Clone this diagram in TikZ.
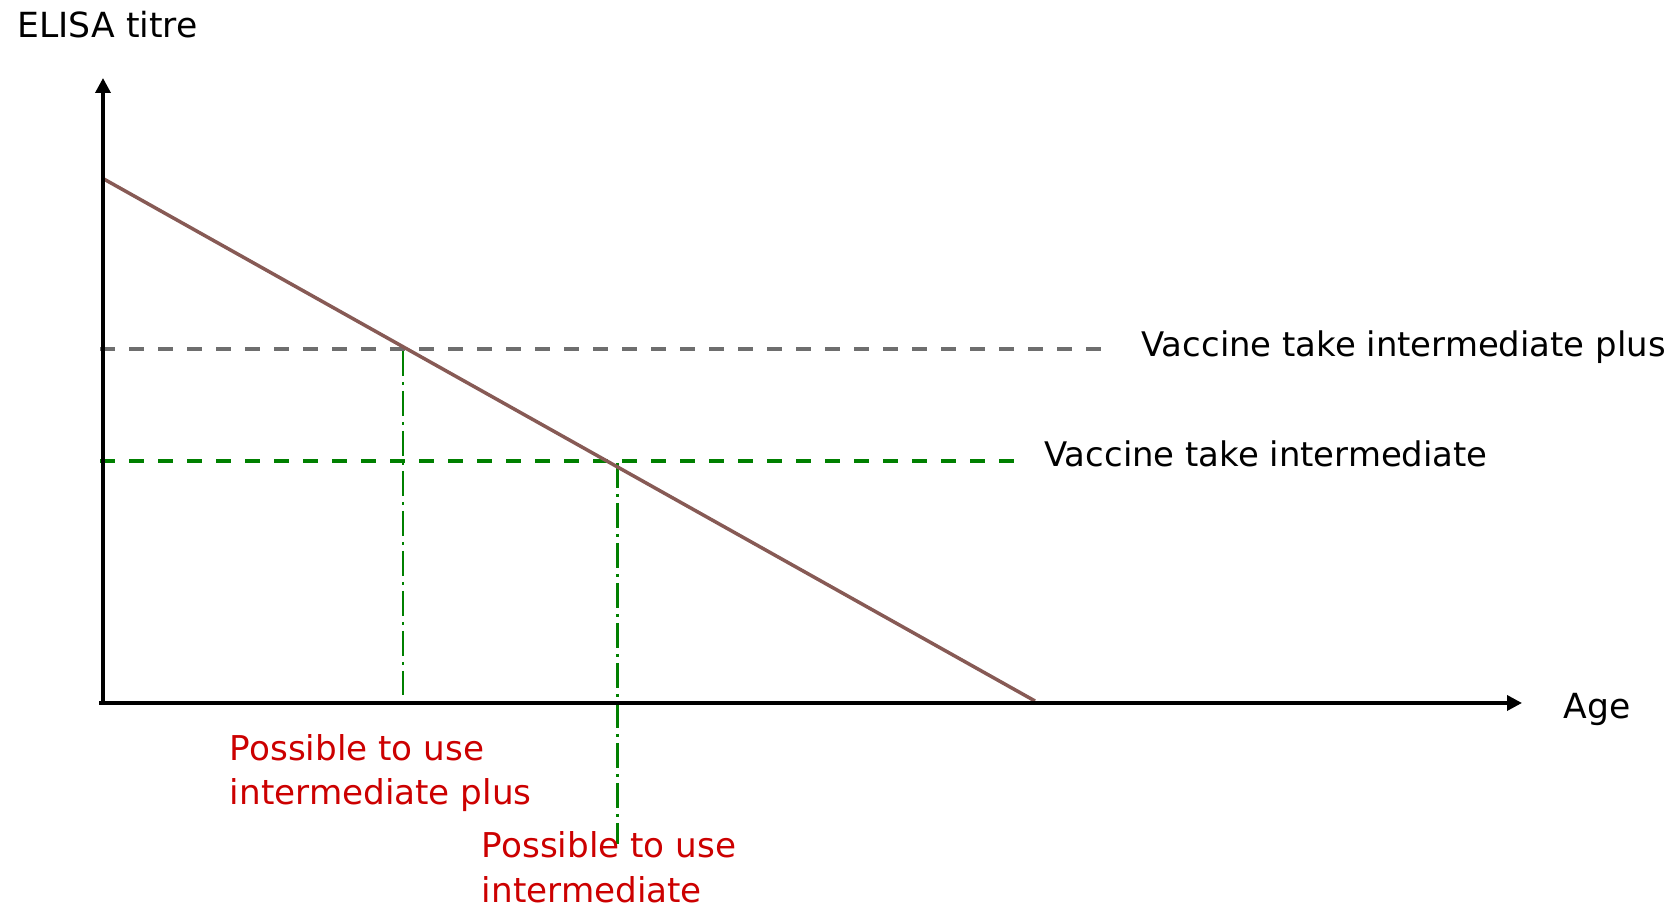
\documentclass[tikz,border=0pt]{standalone}
\usepackage{fontspec}
\setmainfont{DejaVu Sans}
\usetikzlibrary{arrows.meta}
\definecolor{brownline}{RGB}{135,90,85}
\definecolor{grayline}{RGB}{110,110,110}
\definecolor{greenline}{RGB}{0,128,0}
\definecolor{redtext}{RGB}{204,0,0}
\tikzset{
  axisline/.style={line width=1.75pt, black, -{Triangle[length=7.5pt,width=7.5pt]}},
  trendline/.style={line width=1.75pt, brownline},
  levelplus/.style={line width=2pt, grayline, dash pattern=on 7.5pt off 7pt},
  levelint/.style={line width=2pt, greenline, dash pattern=on 7.5pt off 7pt},
  dropline/.style={line width=1.1pt, greenline, dash pattern=on 12.5pt off 3pt on 1.5pt off 3pt},
  lbl/.style={inner sep=0pt, anchor=base west, font=\fontsize{17.3}{20}\selectfont},
  redlbl/.style={inner sep=0pt, anchor=base west, text=redtext, font=\fontsize{17.1}{22.5}\selectfont},
  vlbl/.style={inner sep=0pt, anchor=base west, font=\fontsize{16.95}{20}\selectfont},
}
\begin{document}
\begin{tikzpicture}[x=0.5pt,y=-0.5pt]
\useasboundingbox (0,0) rectangle (1678,908);
% coordinates
\coordinate (O) at (103,703);
\coordinate (xstart) at (99,703);
\coordinate (ytop) at (103,78);
\coordinate (xend) at (1522,703);
\coordinate (tstart) at (102,178);
\coordinate (tend) at (1035,701);
\coordinate (pstart) at (100,349);
\coordinate (pend) at (1106,349);
\coordinate (istart) at (100,461);
\coordinate (iend) at (1017,461);
\coordinate (d1top) at (403,351);
\coordinate (d1bot) at (403,695);
\coordinate (d2top) at (617.5,463);
\coordinate (d2bot) at (617.5,844);
% lines
\draw[levelplus] (pstart) -- (pend);
\draw[levelint] (istart) -- (iend);
\draw[dropline] (d1top) -- (d1bot);
\draw[dropline] (d2top) -- (d2bot);
\draw[trendline] (tstart) -- (tend);
\draw[axisline] (O) -- (ytop);
\draw[axisline] (xstart) -- (xend);
% labels
\node[lbl] (ylabel) at (17,37.7) {ELISA titre};
\node[lbl] (xlabel) at (1563,718.5) {Age};
\node[vlbl] (vplus) at (1141,357) {Vaccine take intermediate plus};
\node[vlbl] (vint) at (1044,466.7) {Vaccine take intermediate};
\node[redlbl] (rplusa) at (229.5,760.7) {Possible to use};
\node[redlbl] (rplusb) at (229.5,805) {intermediate plus};
\node[redlbl] (rinta) at (481.5,858) {Possible to use};
\node[redlbl] (rintb) at (481.5,903) {intermediate};
\end{tikzpicture}
\end{document}
